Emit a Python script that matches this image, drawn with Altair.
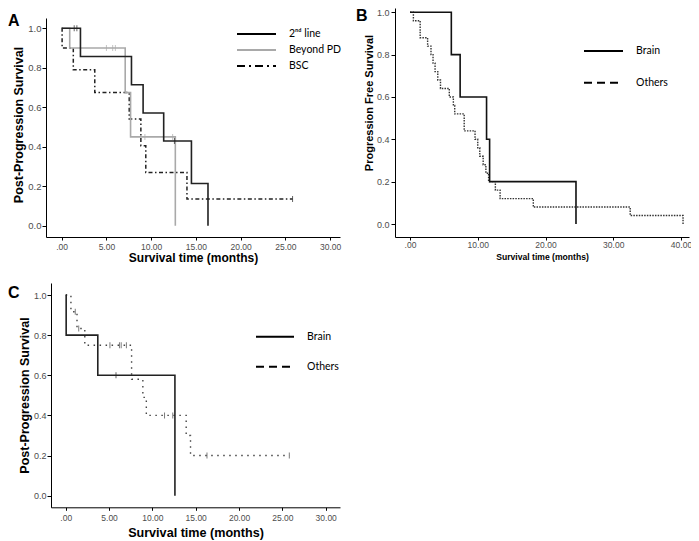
import altair as alt
import pandas as pd

SANS = "Liberation Sans, Arial, sans-serif"
LEGEND_FONT = "Lato, Carlito, Calibri, sans-serif"
GRAY_LABEL = "#4d4d4d"

# ---------------- Panel A : Post-progression survival by treatment ----------------
A_SERIES = ["2ⁿᵈ line", "Beyond PD", "BSC"]
A_2ND_T = [0, 2.1, 7.8, 9.1, 11.4, 14.5, 16.35]
A_2ND_S = [1.0, 0.857, 0.714, 0.571, 0.429, 0.214, 0.0]
A_2ND_CT = [1.4, 1.7, 12.6]
A_2ND_CS = [1.0, 1.0, 0.429]

A_BPD_T = [0, 0.9, 7.1, 7.7, 12.7]
A_BPD_S = [1.0, 0.9, 0.675, 0.45, 0.0]
A_BPD_CT = [5.0, 5.7, 6.0, 9.3, 12.4]
A_BPD_CS = [0.9, 0.9, 0.9, 0.45, 0.45]

A_BSC_T = [0, 0.05, 1.3, 3.7, 7.55, 8.85, 9.4, 14.0, 25.8]
A_BSC_S = [1.0, 0.9, 0.79, 0.675, 0.54, 0.405, 0.27, 0.135, 0.135]
A_BSC_CT = [25.8]
A_BSC_CS = [0.135]

# ---------------- Panel B : Progression free survival ----------------
B_SERIES = ["Brain", "Others"]
B_BRAIN_T = [0, 6.1, 7.4, 11.3, 11.75, 24.5]
B_BRAIN_S = [1.0, 0.8, 0.6, 0.4, 0.2, 0.0]
B_OTH_T = [0, 0.5, 1.5, 2.6, 3.1, 3.4, 3.7, 4.1, 4.5, 5.8, 6.4, 6.6, 8.0, 9.6,
           10.0, 10.3, 10.8, 11.2, 11.6, 12.6, 13.3, 18.2, 32.5, 40.3]
B_OTH_S = [1.0, 0.96, 0.88, 0.84, 0.80, 0.76, 0.72, 0.68, 0.64, 0.60, 0.56, 0.52, 0.44, 0.40,
           0.36, 0.32, 0.28, 0.24, 0.20, 0.16, 0.12, 0.08, 0.04, 0.0]

# ---------------- Panel C : Post-progression survival by site ----------------
C_SERIES = ["Brain", "Others"]
C_BRAIN_T = [0, 0.05, 3.7, 12.6]
C_BRAIN_S = [1.0, 0.8, 0.6, 0.0]
C_BRAIN_CT = [5.8]
C_BRAIN_CS = [0.6]
C_OTH_T = [0, 0.6, 1.3, 2.2, 7.6, 8.9, 9.3, 13.9, 14.4, 25.8]
C_OTH_S = [1.0, 0.917, 0.833, 0.75, 0.58, 0.49, 0.40, 0.30, 0.20, 0.20]
C_OTH_CT = [1.1, 1.5, 5.1, 6.2, 6.4, 7.0, 11.4, 12.35, 16.3, 25.8]
C_OTH_CS = [0.917, 0.833, 0.75, 0.75, 0.75, 0.75, 0.40, 0.40, 0.20, 0.20]

X_TICKS_30 = [0, 5, 10, 15, 20, 25, 30]
X_TICKS_40 = [0, 10, 20, 30, 40]
Y_TICKS = [0, 0.2, 0.4, 0.6, 0.8, 1.0]

W, H = 683, 533
X_LABEL_EXPR = "datum.value == 0 ? '.00' : format(datum.value, '.2f')"


def x_axis(offset, values, title, title_size, label_size, label_pad, title_pad):
    return alt.Axis(orient="bottom", offset=offset, values=values, labelExpr=X_LABEL_EXPR,
                    title=title, titleFont=SANS, titleFontSize=title_size,
                    titleFontWeight="bold", titleColor="black", titlePadding=title_pad,
                    labelFont=SANS, labelFontSize=label_size, labelColor=GRAY_LABEL,
                    labelPadding=label_pad, tickSize=3, tickColor="black",
                    domainColor="black", grid=False, labelFlush=False, labelOverlap=False)


def y_axis(offset, title, title_size, label_size, label_pad, title_pad, title_y):
    return alt.Axis(orient="left", offset=offset, values=Y_TICKS, format=".1f",
                    title=title, titleFont=SANS, titleFontSize=title_size,
                    titleFontWeight="bold", titleColor="black", titlePadding=title_pad,
                    titleY=title_y,
                    labelFont=SANS, labelFontSize=label_size, labelColor=GRAY_LABEL,
                    labelPadding=label_pad, tickSize=4, tickColor="black",
                    domainColor="black", grid=False, labelFlush=False, labelOverlap=False)


def km_line(t, s, sx, sy, axes, color, width, dash=None):
    df = pd.DataFrame({"t": t, "s": s})
    props = dict(interpolate="step-after", color=color, strokeWidth=width)
    if dash is not None:
        props["strokeDash"] = dash
    return alt.Chart(df).mark_line(**props).encode(
        x=alt.X("t:Q", scale=sx, axis=axes[0]),
        y=alt.Y("s:Q", scale=sy, axis=axes[1]),
    )


def censor(t, s, sx, sy, axes, color):
    df = pd.DataFrame({"t": t, "s": s})
    return alt.Chart(df).mark_tick(orient="vertical", size=6, thickness=1, color=color).encode(
        x=alt.X("t:Q", scale=sx, axis=axes[0]),
        y=alt.Y("s:Q", scale=sy, axis=axes[1]),
    )


def legend_layer(series, colors, dashes, lx, ly, row_pad, length):
    df = pd.DataFrame({"series": series})
    lg = alt.Legend(orient="none", legendX=lx, legendY=ly, title=None, symbolType="stroke",
                    symbolSize=length * length, symbolStrokeWidth=2, clipHeight=12,
                    rowPadding=row_pad, labelOffset=12, labelFont=LEGEND_FONT,
                    labelFontSize=10.5, labelColor="black", padding=0, symbolOffset=0)
    return alt.Chart(df).mark_line(strokeWidth=2).encode(
        x=alt.value(0), y=alt.value(0),
        color=alt.Color("series:N", scale=alt.Scale(domain=series, range=colors), legend=lg),
        strokeDash=alt.StrokeDash("series:N", scale=alt.Scale(domain=series, range=dashes), legend=lg),
    )


def letter(text, x, y):
    return alt.Chart(pd.DataFrame({"label": [text]})).mark_text(
        font=SANS, fontSize=16, fontWeight="bold", align="left", baseline="middle", color="black"
    ).encode(text="label:N", x=alt.value(x), y=alt.value(y))


# ---- Panel A scales/axes ----
a_sx = alt.Scale(domain=[-1.75, 31.1], range=[38, 332], nice=False, zero=False)
a_sy = alt.Scale(domain=[-0.057, 1.052], range=[229, 10], nice=False, zero=False)
a_axes = (x_axis(229 - H, X_TICKS_30, "Survival time (months)", 12, 8.5, 2, 1.5),
          y_axis(-38, "Post-Progression Survival", 12.5, 9.5, 1, 2.5, 116.5))
panel_a = alt.layer(
    km_line(A_BSC_T, A_BSC_S, a_sx, a_sy, a_axes, "#222222", 1.5, [4, 2.5, 1.5, 2.5]),
    km_line(A_BPD_T, A_BPD_S, a_sx, a_sy, a_axes, "#a9a9a9", 1.6),
    km_line(A_2ND_T, A_2ND_S, a_sx, a_sy, a_axes, "#222222", 1.6),
    censor(A_BPD_CT, A_BPD_CS, a_sx, a_sy, a_axes, "#a9a9a9"),
    censor(A_2ND_CT, A_2ND_CS, a_sx, a_sy, a_axes, "#222222"),
    censor(A_BSC_CT, A_BSC_CS, a_sx, a_sy, a_axes, "#222222"),
    legend_layer(A_SERIES, ["black", "#a9a9a9", "black"], [[1, 0], [1, 0], [8, 4, 2, 4]],
                 228, 20, 4, 39),
)

# ---- Panel B ----
b_sx = alt.Scale(domain=[-2.214, 41.18], range=[387, 681], nice=False, zero=False)
b_sy = alt.Scale(domain=[-0.0614, 1.0203], range=[229, 0], nice=False, zero=False)
b_axes = (x_axis(229 - H, X_TICKS_40, "Survival time (months)", 8.6, 8.5, 0.5, 3.5),
          y_axis(-387, "Progression Free Survival", 11, 9, 2, 2, 94.5))
panel_b = alt.layer(
    km_line(B_OTH_T, B_OTH_S, b_sx, b_sy, b_axes, "#333333", 1.4, [1.5, 1.2]),
    km_line(B_BRAIN_T, B_BRAIN_S, b_sx, b_sy, b_axes, "#111111", 1.6),
    legend_layer(B_SERIES, ["black", "black"], [[1, 0], [8, 5]], 575, 37, 19.7, 39),
)

# ---- Panel C ----
c_sx = alt.Scale(domain=[-1.70, 31.65], range=[43, 332], nice=False, zero=False)
c_sy = alt.Scale(domain=[-0.058, 1.06], range=[499.3, 275], nice=False, zero=False)
c_axes = (x_axis(499.3 - H, X_TICKS_30, "Survival time (months)", 12.6, 8.5, 3.5, 4),
          y_axis(-43, "Post-Progression Survival", 12.5, 9, 1, 1.5, 387))
panel_c = alt.layer(
    km_line(C_OTH_T, C_OTH_S, c_sx, c_sy, c_axes, "#444444", 1.4, [1.5, 4.5]),
    km_line(C_BRAIN_T, C_BRAIN_S, c_sx, c_sy, c_axes, "#222222", 1.6),
    censor(C_OTH_CT, C_OTH_CS, c_sx, c_sy, c_axes, "#444444"),
    censor(C_BRAIN_CT, C_BRAIN_CS, c_sx, c_sy, c_axes, "#222222"),
    legend_layer(C_SERIES, ["black", "black"], [[1, 0], [8, 5]], 247, 322.7, 18, 38),
)

chart = alt.layer(
    panel_a, panel_b, panel_c,
    letter("A", 0, 13), letter("B", 348, 8), letter("C", 0, 285),
).resolve_scale(
    x="independent", y="independent", color="independent", strokeDash="independent"
).properties(
    width=W, height=H, padding=0, autosize=alt.AutoSizeParams(type="none")
).configure_view(stroke=None)

chart.save("out.html", embed_options={"renderer": "svg", "actions": False})
